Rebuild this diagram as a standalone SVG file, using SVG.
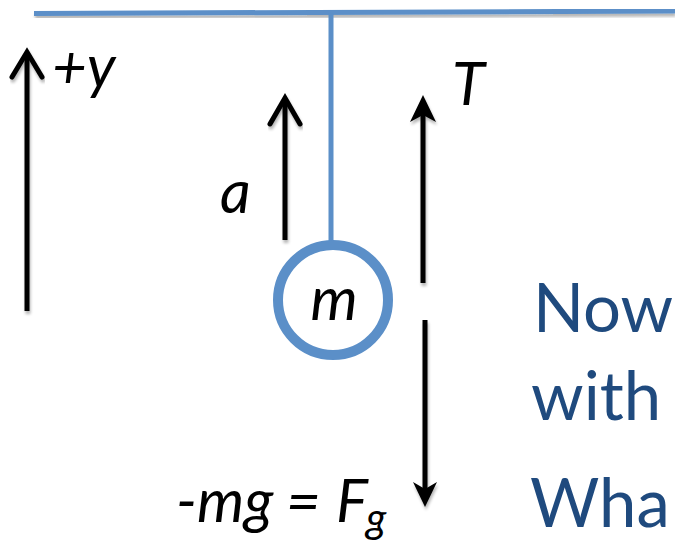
<svg xmlns="http://www.w3.org/2000/svg" width="675" height="548" viewBox="0 0 675 548">
<defs>
<filter id="sh" x="-10%" y="-50%" width="120%" height="300%">
<feGaussianBlur in="SourceAlpha" stdDeviation="1.5"/>
<feOffset dx="1" dy="3" result="b"/>
<feComponentTransfer><feFuncA type="linear" slope="0.3"/></feComponentTransfer>
<feMerge><feMergeNode/><feMergeNode in="SourceGraphic"/></feMerge>
</filter>
<style>
.blue{stroke:#5b8fc8;fill:none}
.arr{stroke:#000;stroke-width:5;fill:none}
.lbl{font-family:Lato,"Liberation Sans",sans-serif;font-style:italic;font-size:60px;fill:#000}
.txt{font-family:Lato,"Liberation Sans",sans-serif;font-size:67px;fill:#1f4a7e}
</style>
</defs>
<rect width="675" height="548" fill="#fff"/>
<g id="ceiling" filter="url(#sh)">
<line class="blue" x1="34" y1="13.5" x2="675" y2="11" stroke-width="5"/>
</g>
<g id="connectors">
<line class="blue" x1="331" y1="13" x2="331" y2="242" stroke-width="5"/>
<g id="axis-y" filter="url(#sh)">
<line class="arr" x1="27" y1="311" x2="27" y2="54"/>
<polyline class="arr" points="12,77 27,52 42,77" stroke-linecap="round"/>
</g>
<g id="arrow-a" filter="url(#sh)">
<line class="arr" x1="285" y1="240" x2="285" y2="100"/>
<polyline class="arr" points="270,124 285,98 300,124" stroke-linecap="round"/>
</g>
<g id="arrow-T" filter="url(#sh)">
<line class="arr" x1="423" y1="283" x2="423" y2="110" stroke-width="6"/>
<polygon points="423,95 436,122 423,115 410,122" fill="#000"/>
</g>
<g id="arrow-Fg" filter="url(#sh)">
<line class="arr" x1="425" y1="320" x2="425" y2="492" stroke-width="6"/>
<polygon points="425,507 437,482 425,489 413,482" fill="#000"/>
</g>
</g>
<g id="mass">
<circle class="blue" cx="333" cy="300" r="55" stroke-width="10" fill="#fff"/>
<text class="lbl" x="334" y="320" text-anchor="middle">m</text>
</g>
<g id="labels">
<text class="lbl" x="52" y="88">+y</text>
<text class="lbl" x="220" y="213">a</text>
<text class="lbl" x="452" y="105">T</text>
<text class="lbl" y="522"><tspan x="176">-mg</tspan><tspan x="286">=</tspan><tspan x="336">F</tspan><tspan x="366" dy="11" font-size="42px">g</tspan></text>
</g>
<g id="side-text">
<text class="txt" x="533" y="332">Now</text>
<text class="txt" x="531" y="420">with</text>
<text class="txt" x="530" y="527">Wha</text>
</g>
</svg>
